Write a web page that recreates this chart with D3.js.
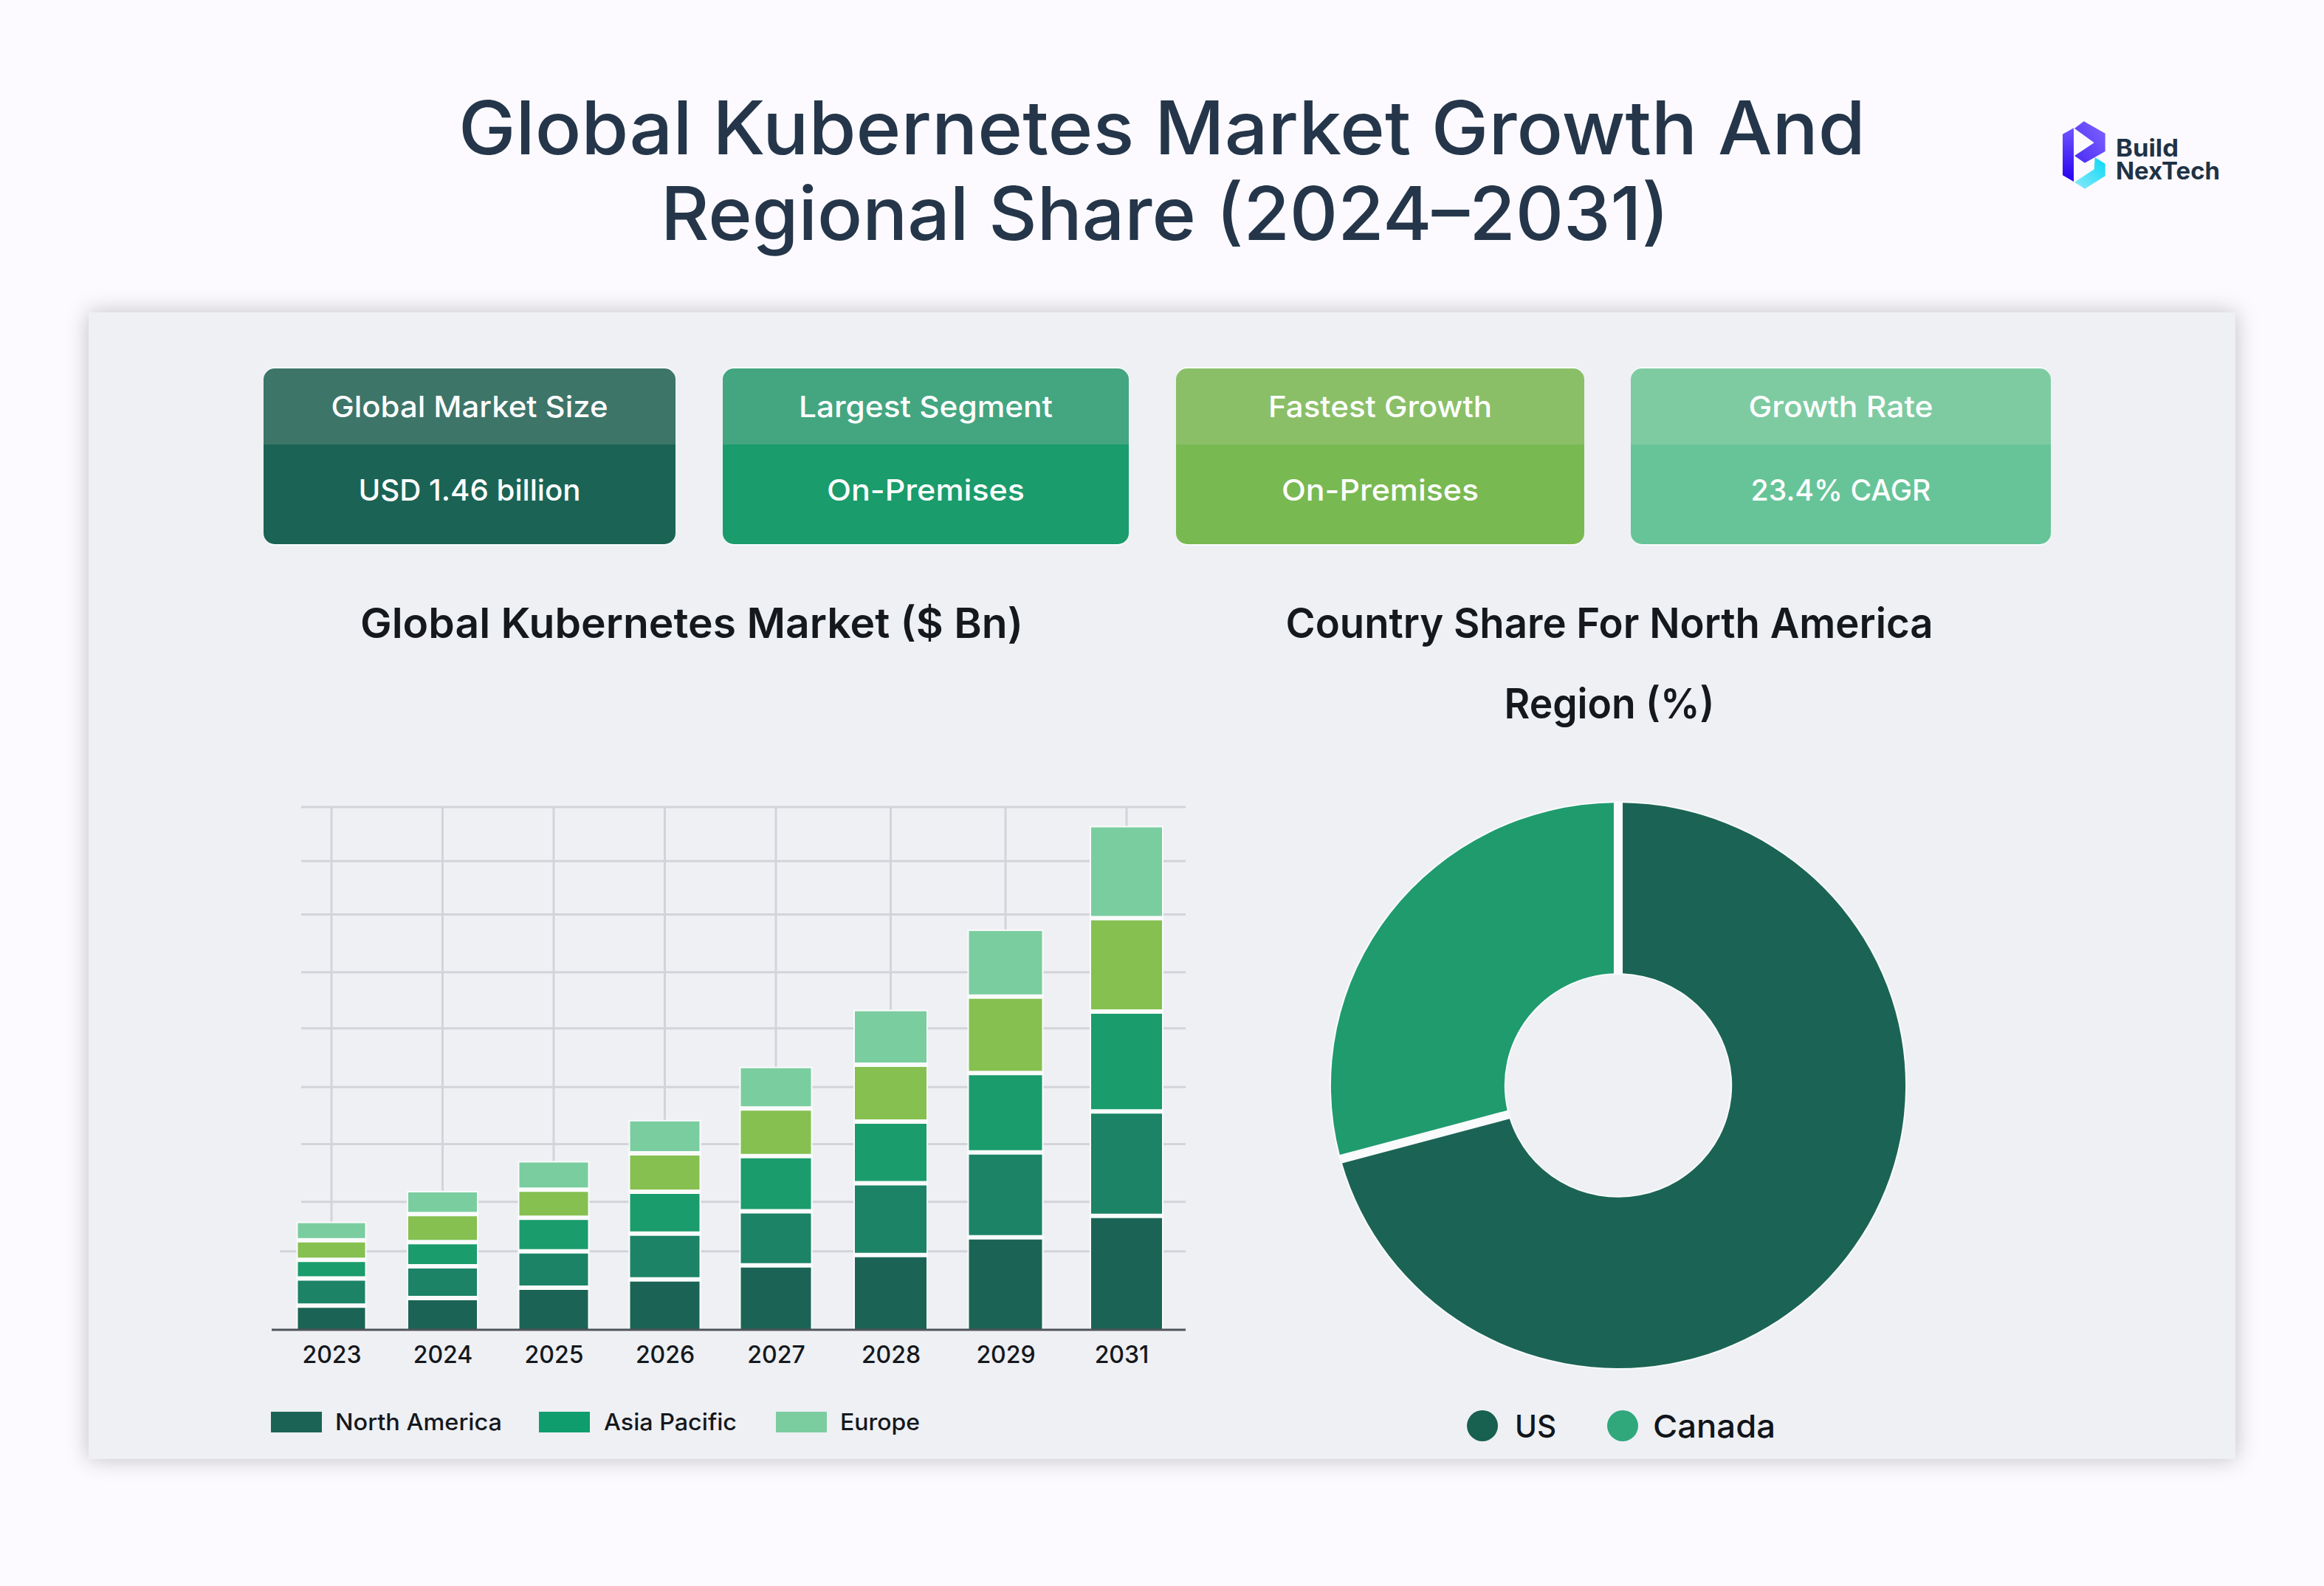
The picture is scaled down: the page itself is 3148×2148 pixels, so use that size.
<!DOCTYPE html>
<html>
<head>
<meta charset="utf-8">
<script src="https://cdn.jsdelivr.net/npm/d3@7"></script>
<style>
  html, body { margin: 0; padding: 0; background: #fcfaff; }
  svg { display: block; font-family: Inter, "Noto Sans", sans-serif; }
</style>
</head>
<body>
<svg id="chart" width="3148" height="2148"></svg>
<script>
// bar chart data ($ Bn)
const years = [2023, 2024, 2025, 2026, 2027, 2028, 2029, 2031];
const seriesKeys = ['northAmerica', 'band2', 'asiaPacific', 'band4', 'europe'];
const northAmerica = [0.26, 0.34, 0.45, 0.54, 0.69, 0.80, 0.99, 1.22];
const band2 = [0.29, 0.34, 0.39, 0.49, 0.58, 0.77, 0.91, 1.12];
const asiaPacific = [0.20, 0.26, 0.36, 0.45, 0.59, 0.66, 0.85, 1.07];
const band4 = [0.21, 0.30, 0.30, 0.41, 0.51, 0.61, 0.82, 1.00];
const europe = [0.19, 0.24, 0.30, 0.35, 0.44, 0.58, 0.71, 0.98];
const gridValues = [0.84, 1.37, 1.99, 2.60, 3.23, 3.83, 4.45, 5.02, 5.60];
const legendLabels = ['North America', 'Asia Pacific', 'Europe'];

// donut data (%)
const countries = ['US', 'Canada'];
const countryShare = [70.8, 29.2];

// kpi cards
const cardLabels = ['Global Market Size', 'Largest Segment', 'Fastest Growth', 'Growth Rate'];
const cardValues = ['USD 1.46 billion', 'On-Premises', 'On-Premises', '23.4% CAGR'];

const barColors = ['#1b6455', '#1c8367', '#1a9c6c', '#85c050', '#7acd9f'];
const svg = d3.select('#chart');

// sets the width a text should take in the picture
const fit = (sel, w) => sel.attr('textLength', w).attr('lengthAdjust', 'spacingAndGlyphs');

const defs = svg.append('defs');
const shadow = defs.append('filter').attr('id', 'shadow')
    .attr('x', '-4%').attr('y', '-6%').attr('width', '108%').attr('height', '112%');
shadow.append('feDropShadow').attr('dx', 0).attr('dy', 0).attr('stdDeviation', 15)
    .attr('flood-color', '#000').attr('flood-opacity', 0.24);

const addGradient = (id, stops, x2, y2) => {
    const g = defs.append('linearGradient').attr('id', id)
        .attr('x1', 0).attr('y1', 1).attr('x2', x2).attr('y2', y2);
    g.selectAll('stop').data(stops).enter().append('stop')
        .attr('offset', (d, i) => i / (stops.length - 1))
        .attr('stop-color', d => d);
};
addGradient('logoLeft', ['#2600ee', '#6f55ff'], 0, 0);
addGradient('logoTop', ['#4a2bf5', '#7f66ff'], 1, 0);
addGradient('logoBottom', ['#8ce9fa', '#08d8f4'], 1, 0);

// page title
const title = svg.append('g').attr('fill', '#25364a').attr('text-anchor', 'middle')
    .attr('font-size', 100).attr('font-weight', 500);
title.append('text').attr('x', 1574).attr('y', 209).text('Global Kubernetes Market Growth And').call(fit, 1906);
title.append('text').attr('x', 1578).attr('y', 325).text('Regional Share (2024–2031)').call(fit, 1366);

// logo
const logo = svg.append('g').attr('transform', 'translate(2720,130) scale(0.3333)');
logo.append('polygon').attr('points', '222,155 267,130 267,348 222,322').attr('fill', 'url(#logoLeft)');
logo.append('polygon').attr('points', '270,132 308,103 395,152 395,225 312,272 270,243 350,190').attr('fill', 'url(#logoTop)');
logo.append('polygon').attr('points', '353,250 395,275 395,325 312,377 270,350 350,298').attr('fill', 'url(#logoBottom)');
const logoText = svg.append('g').attr('fill', '#1f3346').attr('font-size', 32).attr('font-weight', 700);
logoText.append('text').attr('x', 2866).attr('y', 212).text('Build').call(fit, 85);
logoText.append('text').attr('x', 2866).attr('y', 243).text('NexTech').call(fit, 141);

// panel
svg.append('rect').attr('x', 120).attr('y', 423).attr('width', 2908).attr('height', 1553)
    .attr('fill', '#eef0f4').attr('filter', 'url(#shadow)');

// cards
const cardLeft = [357, 979, 1593, 2209];
const cardRight = [915, 1529, 2146, 2778];
const cardTop = 499, cardMid = 602, cardBottom = 737;
const cardDark = ['#1b6455', '#1a9c6c', '#79b952', '#67c498'];
const cardLight = ['#3d7569', '#43a680', '#8abf68', '#7ecba2'];
const labelWidth = [375, 344, 303, 250];
const valueWidth = [301, 268, 267, 244];

cardLabels.forEach((label, i) => {
    const w = cardRight[i] - cardLeft[i];
    const clipId = 'cardClip' + i;
    defs.append('clipPath').attr('id', clipId).append('rect')
        .attr('x', cardLeft[i]).attr('y', cardTop).attr('width', w).attr('height', cardBottom - cardTop).attr('rx', 15);
    svg.append('rect').attr('x', cardLeft[i]).attr('y', cardTop - 2).attr('width', w).attr('height', cardBottom - cardTop + 4)
        .attr('rx', 16).attr('fill', '#fafcfc');
    const card = svg.append('g').attr('clip-path', `url(#${clipId})`);
    card.append('rect').attr('x', cardLeft[i]).attr('y', cardTop).attr('width', w).attr('height', cardMid - cardTop).attr('fill', cardLight[i]);
    card.append('rect').attr('x', cardLeft[i]).attr('y', cardMid).attr('width', w).attr('height', cardBottom - cardMid).attr('fill', cardDark[i]);
    const cx = (cardLeft[i] + cardRight[i]) / 2;
    const t = svg.append('g').attr('fill', '#fff').attr('text-anchor', 'middle').attr('font-size', 40).attr('font-weight', 500);
    t.append('text').attr('x', cx).attr('y', 565).text(label).call(fit, labelWidth[i]);
    t.append('text').attr('x', cx).attr('y', 678).text(cardValues[i]).call(fit, valueWidth[i]);
});

// chart headings
const heading = svg.append('g').attr('fill', '#15181c').attr('text-anchor', 'middle')
    .attr('font-size', 56).attr('font-weight', 600);
heading.append('text').attr('x', 937).attr('y', 864).text('Global Kubernetes Market ($ Bn)').call(fit, 898);
heading.append('text').attr('x', 2180).attr('y', 864).text('Country Share For North America').call(fit, 877);
heading.append('text').attr('x', 2180).attr('y', 973).text('Region (%)').call(fit, 285);

// stacked bars
const baseY = 1801, topY = 1093;
const barWidths = [93, 95, 95, 96, 97, 99, 101, 98];
const gap = 6;
const gridLeft = 408, axisLeft = 368, axisRight = 1606;

// 2030 is missing from the chart, so the last step is not two years wide
const xScale = d3.scaleLinear().domain([2023, 2027, 2029, 2031]).range([449, 1051, 1362, 1526]);
const yScale = d3.scaleLinear().domain([0, 5.6]).range([baseY, topY]);
const barWidth = d => barWidths[years.indexOf(d.data.year)];

const grid = svg.append('g').attr('stroke', '#d3d4d9').attr('stroke-width', 3);
grid.selectAll('.h').data(gridValues).enter().append('line').attr('class', 'h')
    .attr('x1', d => d === gridValues[0] ? 379 : gridLeft).attr('x2', axisRight)
    .attr('y1', d => yScale(d)).attr('y2', d => yScale(d));
grid.selectAll('.v').data(years).enter().append('line').attr('class', 'v')
    .attr('x1', d => xScale(d)).attr('x2', d => xScale(d))
    .attr('y1', topY).attr('y2', baseY);

const rows = years.map((year, i) => ({
    year,
    northAmerica: northAmerica[i],
    band2: band2[i],
    asiaPacific: asiaPacific[i],
    band4: band4[i],
    europe: europe[i]
}));
const stacked = d3.stack().keys(seriesKeys)(rows);

const layers = svg.selectAll('.layer').data(stacked).enter().append('g').attr('class', 'layer')
    .attr('fill', (d, i) => barColors[i]);
layers.selectAll('rect').data(d => d).enter().append('rect')
    .attr('x', d => xScale(d.data.year) - barWidth(d) / 2)
    .attr('width', barWidth)
    .attr('y', d => yScale(d[1]))
    .attr('height', d => yScale(d[0]) - yScale(d[1]))
    .attr('stroke', '#f9fbfb').attr('stroke-width', 2);

// light separators between the segments, on top of all the layers
const separators = svg.selectAll('.sep').data(stacked.slice(0, 4)).enter().append('g').attr('class', 'sep');
separators.selectAll('line').data(d => d).enter().append('line')
    .attr('x1', d => xScale(d.data.year) - barWidth(d) / 2)
    .attr('x2', d => xScale(d.data.year) + barWidth(d) / 2)
    .attr('y1', d => yScale(d[1]))
    .attr('y2', d => yScale(d[1]))
    .attr('stroke', '#f9fbfb').attr('stroke-width', gap);

const xAxis = d3.axisBottom(xScale).tickValues(years).tickFormat(d3.format('d')).tickSize(0).tickPadding(22);
const axisG = svg.append('g').attr('transform', `translate(0,${baseY})`).call(xAxis);
axisG.select('.domain').remove();
axisG.selectAll('text').attr('font-family', 'Inter').attr('font-size', 32).attr('font-weight', 500).attr('fill', '#15181c')
    .attr('dx', d => d === 2031 ? -7 : 0);
svg.append('line').attr('x1', axisLeft).attr('x2', axisRight).attr('y1', baseY).attr('y2', baseY)
    .attr('stroke', '#50555a').attr('stroke-width', 3);

// bar legend
const legendX = [367, 730, 1051];
const legendTextX = [454, 818, 1138];
const legendTextW = [226, 180, 108];
const legendColors = ['#1b6455', '#0f9d6e', '#7bcd9f'];
legendLabels.forEach((label, i) => {
    svg.append('rect').attr('x', legendX[i]).attr('y', 1912).attr('width', 69).attr('height', 28).attr('fill', legendColors[i]);
    svg.append('text').attr('x', legendTextX[i]).attr('y', 1937).attr('font-size', 31).attr('font-weight', 500)
        .attr('fill', '#15181c').text(label).call(fit, legendTextW[i]);
});

// donut, slightly wider than tall in the reference
const pieCx = 2192, pieCy = 1470, outerR = 386, innerR = 153;
const pie = d3.pie().sort(null)(countryShare);
const arc = d3.arc().innerRadius(innerR).outerRadius(outerR).padRadius(outerR).padAngle(12 / outerR);
const donut = svg.append('g').attr('transform', `translate(${pieCx},${pieCy}) scale(1.008,0.992)`);
donut.append('path')
    .attr('d', d3.arc().innerRadius(innerR - 2).outerRadius(outerR + 2).startAngle(0).endAngle(2 * Math.PI)())
    .attr('fill', '#f8fafb');
const donutColors = ['#1b6455', '#1f9b6e'];
donut.selectAll('.slice').data(pie).enter().append('path').attr('class', 'slice')
    .attr('d', arc).attr('fill', (d, i) => donutColors[i]);

// donut legend
const dotX = [2008, 2198];
const dotTextX = [2052, 2239];
const dotTextW = [56, 166];
const dotColors = ['#18604f', '#30a87c'];
countries.forEach((name, i) => {
    svg.append('circle').attr('cx', dotX[i]).attr('cy', 1931).attr('r', 21).attr('fill', dotColors[i]);
    svg.append('text').attr('x', dotTextX[i]).attr('y', 1947).attr('font-size', 43).attr('font-weight', 500)
        .attr('fill', '#12151a').text(name).call(fit, dotTextW[i]);
});
</script>
</body>
</html>
